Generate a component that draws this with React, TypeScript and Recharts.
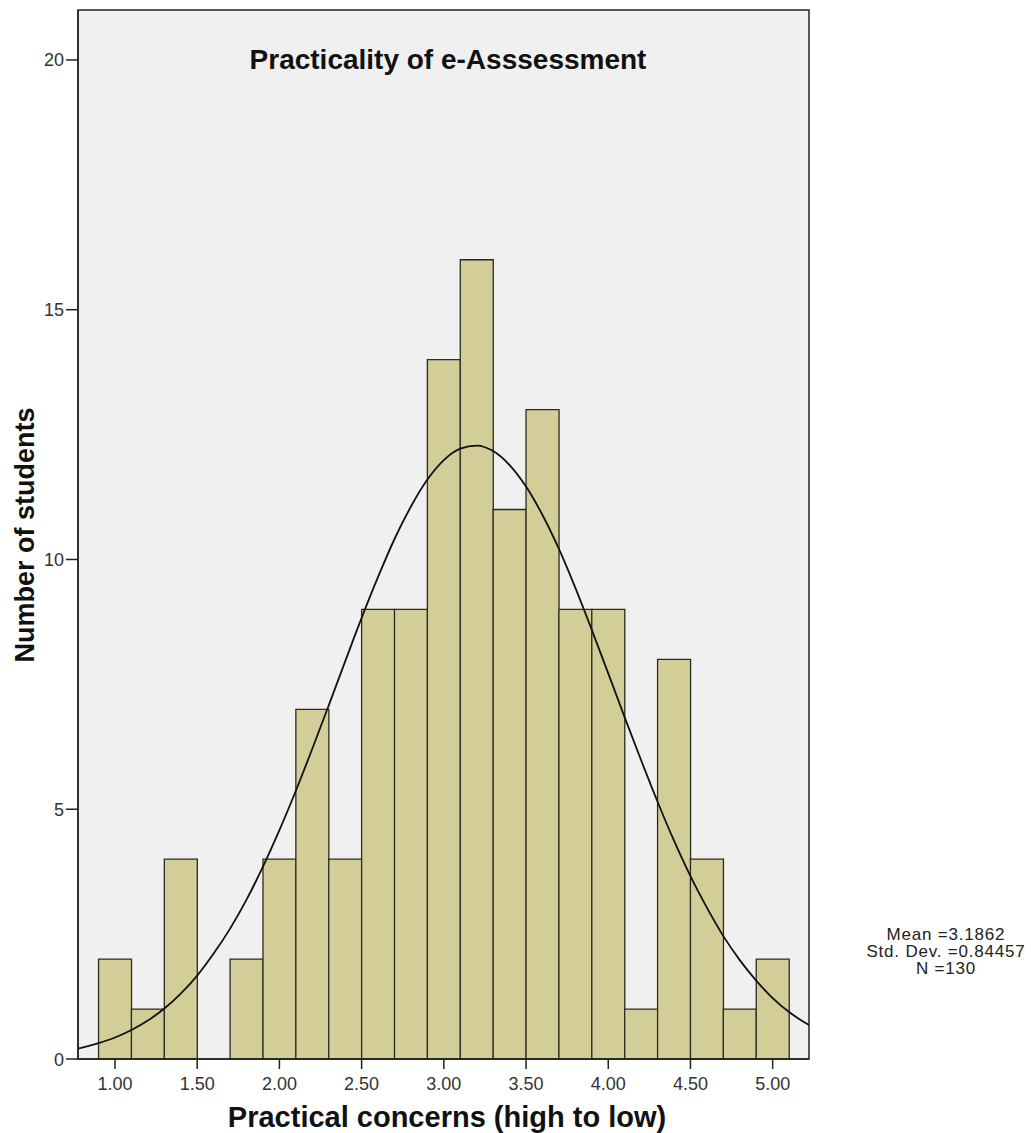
import {
  ComposedChart,
  Bar,
  Line,
  XAxis,
  YAxis,
  CartesianGrid,
  ReferenceArea,
} from "recharts";

// histogram bins (bin width 0.2), midpoints
const binMids = [1.0, 1.2, 1.4, 1.6, 1.8, 2.0, 2.2, 2.4, 2.6, 2.8, 3.0, 3.2, 3.4, 3.6, 3.8, 4.0, 4.2, 4.4, 4.6, 4.8, 5.0];
const binCounts = [2, 1, 4, 0, 2, 4, 7, 4, 9, 9, 14, 16, 11, 13, 9, 9, 1, 8, 4, 1, 2];

// normal curve
const curveX = [0.7, 0.8, 0.9, 1.0, 1.1, 1.2, 1.3, 1.4, 1.5, 1.6, 1.7, 1.8, 1.9, 2.0, 2.1, 2.2, 2.3, 2.4, 2.5, 2.6, 2.7, 2.8, 2.9, 3.0, 3.1, 3.2, 3.3, 3.4, 3.5, 3.6, 3.7, 3.8, 3.9, 4.0, 4.1, 4.2, 4.3, 4.4, 4.5, 4.6, 4.7, 4.8, 4.9, 5.0, 5.1, 5.2, 5.3];
const curveY = [0.16, 0.23, 0.32, 0.43, 0.58, 0.77, 1.01, 1.31, 1.67, 2.11, 2.61, 3.19, 3.85, 4.58, 5.37, 6.21, 7.08, 7.96, 8.83, 9.65, 10.41, 11.06, 11.6, 11.99, 12.22, 12.28, 12.17, 11.89, 11.46, 10.89, 10.21, 9.43, 8.59, 7.72, 6.84, 5.98, 5.15, 4.37, 3.66, 3.03, 2.46, 1.98, 1.57, 1.22, 0.94, 0.72, 0.54];

const xTicks = [1.0, 1.5, 2.0, 2.5, 3.0, 3.5, 4.0, 4.5, 5.0];
const yTicks = [0, 5, 10, 15, 20];

const title = "Practicality of e-Asssessment";
const xLabel = "Practical concerns (high to low)";
const yLabel = "Number of students";
const stats = ["Mean =3.1862", "Std. Dev. =0.84457", "N =130"];

const barData = binMids.map((x, i) => ({ x, count: binCounts[i] }));
const curveData = curveX.map((x, i) => ({ x, y: curveY[i] }));

const xDomain: [number, number] = [0.775, 5.221];
const yDomain: [number, number] = [0, 21];
const font = "'Liberation Sans', Arial, sans-serif";

function XTick(props: any) {
  const { x, y, payload } = props;
  return (
    <text x={x} y={y} dy={13} textAnchor="middle" fontSize={18} fontFamily={font} fill="#333">
      {Number(payload.value).toFixed(2)}
    </text>
  );
}

function YTick(props: any) {
  const { x, y, payload } = props;
  return (
    <text x={x} y={y} dy={6.5} textAnchor="end" fontSize={18} fontFamily={font} fill="#333">
      {payload.value}
    </text>
  );
}

export default function App() {
  return (
    <div
      style={{
        position: "absolute",
        left: 0,
        top: 0,
        width: 1031,
        height: 1133,
        background: "#fff",
        fontFamily: font,
      }}
    >
      <ComposedChart
        width={1031}
        height={1133}
        data={barData}
        margin={{ top: 10, right: 222, bottom: 34, left: 38 }}
        barCategoryGap={0}
        barGap={0}
      >
        <CartesianGrid horizontal={false} vertical={false} fill="#f0f0f0" />
        <XAxis
          dataKey="x"
          type="number"
          domain={xDomain}
          allowDataOverflow
          ticks={xTicks}
          tick={<XTick />}
          tickSize={10}
          tickMargin={8}
          tickLine={{ stroke: "#222", strokeWidth: 1.5 }}
          axisLine={{ stroke: "#222", strokeWidth: 1.5 }}
          height={40}
        />
        <XAxis
          xAxisId="curve"
          dataKey="x"
          type="number"
          domain={xDomain}
          allowDataOverflow
          hide
        />
        <YAxis
          type="number"
          domain={yDomain}
          ticks={yTicks}
          tick={<YTick />}
          tickSize={12}
          tickMargin={2}
          tickLine={{ stroke: "#222", strokeWidth: 1.5 }}
          axisLine={{ stroke: "#222", strokeWidth: 1.5 }}
          width={40}
        />
        <Bar
          dataKey="count"
          fill="#d3ce97"
          stroke="#2b2b20"
          strokeWidth={1.3}
          isAnimationActive={false}
        />
        <Line
          xAxisId="curve"
          data={curveData}
          dataKey="y"
          type="monotone"
          dot={false}
          stroke="#111"
          strokeWidth={1.8}
          isAnimationActive={false}
        />
        <ReferenceArea
          x1={xDomain[0]}
          x2={xDomain[1]}
          y1={yDomain[0]}
          y2={yDomain[1]}
          fill="none"
          stroke="#222"
          strokeWidth={1.5}
        />
      </ComposedChart>

      <div
        style={{
          position: "absolute",
          left: 448,
          top: 60,
          transform: "translate(-50%, -50%)",
          whiteSpace: "nowrap",
          fontSize: 28,
          fontWeight: "bold",
          color: "#111",
        }}
      >
        {title}
      </div>
      <div
        style={{
          position: "absolute",
          left: 447,
          top: 1117,
          transform: "translate(-50%, -50%)",
          whiteSpace: "nowrap",
          fontSize: 29,
          fontWeight: "bold",
          color: "#111",
        }}
      >
        {xLabel}
      </div>
      <div
        style={{
          position: "absolute",
          left: 25,
          top: 535,
          transform: "translate(-50%, -50%) rotate(-90deg)",
          whiteSpace: "nowrap",
          fontSize: 27,
          fontWeight: "bold",
          color: "#111",
        }}
      >
        {yLabel}
      </div>
      <div
        style={{
          position: "absolute",
          left: 946,
          top: 926,
          transform: "translateX(-50%)",
          whiteSpace: "nowrap",
          textAlign: "center",
          fontSize: 17,
          letterSpacing: 0.8,
          lineHeight: "17px",
          color: "#222",
        }}
      >
        {stats.map((s) => (
          <div key={s}>{s}</div>
        ))}
      </div>
    </div>
  );
}
